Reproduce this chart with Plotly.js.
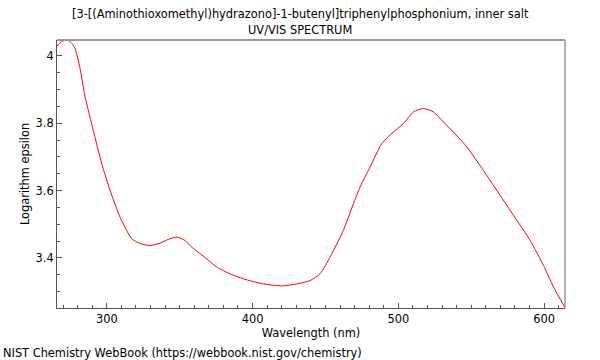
<!DOCTYPE html>
<html>
<head>
<meta charset="utf-8">
<script src="https://cdn.plot.ly/plotly-3.0.1.min.js"></script>
<style>html,body{margin:0;padding:0;background:#fff;}#chart{width:600px;height:360px;}</style>
</head>
<body>
<div id="chart"></div>
<script>
const wavelength = [265.6, 269, 272.9, 275.5, 278.2, 281.6, 285.0, 290.7, 296.5, 302.2, 309.1, 317.1, 322.8, 329.6, 336.5, 342, 348.0, 353.7, 358, 364.0, 370, 375.4, 384.5, 393.7, 407.4, 420.0, 430.3, 439.5, 446.3, 453.2, 462.3, 469.2, 473.8, 480.6, 488.7, 495, 503.5, 510.4, 517.2, 524.1, 531.0, 537.8, 547.0, 558.4, 569.9, 579.0, 590.5, 599.6, 606.5, 614.5];
const logEpsilon = [4.029, 4.043, 4.047, 4.040, 4.022, 3.963, 3.880, 3.779, 3.680, 3.601, 3.521, 3.457, 3.443, 3.437, 3.444, 3.455, 3.462, 3.452, 3.433, 3.413, 3.392, 3.373, 3.353, 3.338, 3.323, 3.317, 3.323, 3.333, 3.353, 3.403, 3.482, 3.561, 3.611, 3.670, 3.740, 3.768, 3.799, 3.834, 3.844, 3.834, 3.804, 3.774, 3.730, 3.660, 3.586, 3.527, 3.452, 3.378, 3.314, 3.251];
const titleLines = ["[3-[(Aminothioxomethyl)hydrazono]-1-butenyl]triphenylphosphonium, inner salt", "UV/VIS SPECTRUM"];
const xTitle = "Wavelength (nm)";
const yTitle = "Logarithm epsilon";
const footer = "NIST Chemistry WebBook (https://webbook.nist.gov/chemistry)";

const font = {family: "DejaVu Sans", size: 11.4, color: "#000"};
const trace = {
  x: wavelength, y: logEpsilon, type: "scatter", mode: "lines",
  line: {color: "#ff0000", width: 1, shape: "spline", smoothing: 0.6},
  hoverinfo: "skip"
};
const layout = {
  width: 600, height: 360,
  margin: {l: 57, r: 35, t: 40, b: 52},
  paper_bgcolor: "#fff", plot_bgcolor: "#fff",
  font: font,
  showlegend: false,
  xaxis: {
    range: [265.8, 614.4], showgrid: false, zeroline: false,
    showline: true, linecolor: "#555", linewidth: 1,
    ticks: "inside", ticklen: 5, tickcolor: "#555", dtick: 100, tick0: 0,
    minor: {ticks: "inside", ticklen: 3, tickcolor: "#555", dtick: 10, tick0: 0, showgrid: false},
    tickfont: font,
    title: {text: xTitle, font: font, standoff: 4}
  },
  yaxis: {
    range: [3.2514, 4.0475], showgrid: false, zeroline: false,
    showline: true, linecolor: "#555", linewidth: 1,
    ticks: "inside", ticklen: 5, tickcolor: "#555", dtick: 0.2, tick0: 0,
    minor: {ticks: "inside", ticklen: 3, tickcolor: "#555", dtick: 0.05, tick0: 0, showgrid: false},
    tickfont: font,
    title: {text: yTitle, font: font, standoff: 3}
  },
  shapes: [
    {type: "line", xref: "paper", yref: "paper", x0: 0, x1: 1, y0: 1, y1: 1, line: {color: "#999", width: 2}},
    {type: "line", xref: "paper", yref: "paper", x0: 1, x1: 1, y0: 0, y1: 1, line: {color: "#999", width: 1.5}}
  ],
  annotations: [
    {text: titleLines[0], xref: "paper", yref: "paper", x: (300 - 57) / 508, y: (308 - 14) / 268,
     xanchor: "center", yanchor: "middle", showarrow: false, font: font},
    {text: titleLines[1], xref: "paper", yref: "paper", x: (300 - 57) / 508, y: (308 - 30) / 268,
     xanchor: "center", yanchor: "middle", showarrow: false, font: font},
    {text: footer, xref: "paper", yref: "paper", x: (1 - 57) / 508, y: -0.168,
     xanchor: "left", yanchor: "middle", showarrow: false, font: font}
  ]
};
Plotly.newPlot("chart", [trace], layout, {staticPlot: true, displayModeBar: false});
</script>
</body>
</html>
